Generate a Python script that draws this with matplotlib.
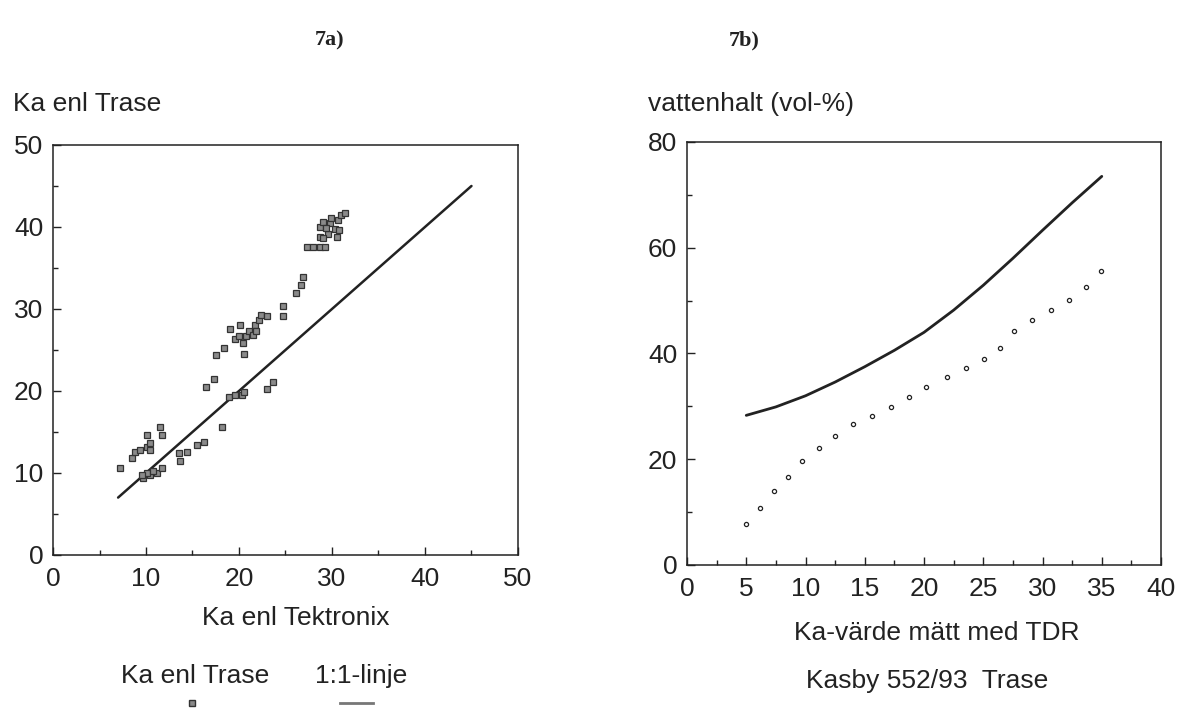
import matplotlib.pyplot as plt
import numpy as np
from matplotlib.ticker import MultipleLocator

plt.rcParams['font.family'] = ['Liberation Sans', 'DejaVu Sans']

# 7a) Ka enl Tektronix (x) vs Ka enl Trase (y)
ka_tektronix = [7.2, 8.5, 8.8, 9.4, 10.1, 10.4, 10.1, 10.4, 11.5, 11.7,
                9.7, 10.4, 11.2, 11.7, 10.1, 9.6, 10.8,
                13.5, 13.7, 14.4, 15.5, 16.2, 18.2,
                16.5, 17.3, 17.5, 18.4, 20.5, 19.0,
                18.9, 19.6, 20.3, 20.5, 23.0, 23.7,
                19.6, 20.1, 20.4, 20.8, 21.1, 21.5, 21.7, 22.1, 22.4, 23.0, 21.8, 20.0,
                24.7, 24.7, 26.1, 26.7, 26.9,
                27.3, 28.0, 28.7, 29.3,
                28.7, 28.7, 29.0, 29.6, 29.8, 30.3, 30.5, 30.6, 31.0, 31.4, 29.0, 29.9, 29.4, 30.8]
ka_trase = [10.6, 11.8, 12.6, 12.8, 13.2, 12.8, 14.6, 13.6, 15.6, 14.6,
            9.4, 9.8, 10.0, 10.6, 10.0, 9.7, 10.3,
            12.4, 11.4, 12.5, 13.4, 13.8, 15.6,
            20.5, 21.4, 24.4, 25.3, 24.5, 27.6,
            19.3, 19.5, 19.5, 19.9, 20.3, 21.1,
            26.4, 28.0, 25.9, 26.7, 27.3, 26.8, 28.0, 28.7, 29.3, 29.1, 27.3, 26.7,
            30.4, 29.1, 32.0, 32.9, 33.9,
            37.5, 37.5, 37.5, 37.5,
            38.8, 40.0, 40.6, 39.2, 40.5, 39.8, 38.8, 40.9, 41.5, 41.7, 38.6, 41.1, 39.9, 39.6]
line_11 = [7, 45]

# 7b) Ka-värde vs vattenhalt
ka_solid = [5, 7.5, 10, 12.5, 15, 17.5, 20, 22.5, 25, 27.5, 30, 32.5, 35]
vh_solid = [28.3, 29.9, 32.0, 34.6, 37.5, 40.6, 44.0, 48.2, 52.9, 58.0, 63.3, 68.5, 73.5]
ka_dots = [5.0, 6.2, 7.3, 8.5, 9.7, 11.1, 12.5, 14.0, 15.6, 17.2, 18.7,
           20.2, 21.9, 23.5, 25.1, 26.4, 27.6, 29.1, 30.7, 32.2, 33.7, 34.9]
vh_dots = [7.7, 10.7, 13.9, 16.6, 19.7, 22.2, 24.4, 26.6, 28.2, 29.9, 31.8,
           33.7, 35.5, 37.3, 38.9, 41.1, 44.2, 46.4, 48.2, 50.1, 52.6, 55.6]

ink = '#222222'
fs = 19
fig = plt.figure(figsize=(11.78, 7.16), dpi=100)
ax1 = fig.add_axes([0.045, 0.2249, 0.3947, 0.5726])
ax2 = fig.add_axes([0.5832, 0.2109, 0.4024, 0.5908])

def style(ax, xmaj, xmin, ymaj, ymin):
    ax.xaxis.set_major_locator(MultipleLocator(xmaj))
    ax.xaxis.set_minor_locator(MultipleLocator(xmin))
    ax.yaxis.set_major_locator(MultipleLocator(ymaj))
    ax.yaxis.set_minor_locator(MultipleLocator(ymin))
    ax.tick_params(which='both', direction='in', color=ink, width=1.0,
                   labelsize=fs, labelcolor=ink)
    ax.tick_params(which='major', length=6)
    ax.tick_params(which='minor', length=3.5)
    ax.tick_params(axis='y', pad=7)
    ax.tick_params(axis='x', pad=9)
    for s in ax.spines.values():
        s.set_color(ink)
        s.set_linewidth(1.1)

ax1.plot(line_11, line_11, color=ink, linewidth=1.8, solid_capstyle='round')
ax1.plot(ka_tektronix, ka_trase, linestyle='none', marker='s', markersize=4.6,
         markerfacecolor='#8a8a8a', markeredgecolor='#333333', markeredgewidth=0.9)
ax1.set_xlim(0, 50)
ax1.set_ylim(0, 50)
style(ax1, 10, 5, 10, 5)

ax2.plot(ka_solid, vh_solid, color=ink, linewidth=2.0, solid_capstyle='round')
ax2.plot(ka_dots, vh_dots, linestyle='none', marker='o', markersize=3,
         markerfacecolor='white', markeredgecolor=ink, markeredgewidth=0.9)
ax2.set_xlim(0, 40)
ax2.set_ylim(0, 80)
style(ax2, 5, 2.5, 20, 10)

fig.text(0.280, 0.944, '7a)', family='Liberation Serif', weight='bold', fontsize=16,
         ha='center', va='center', color=ink)
fig.text(0.632, 0.944, '7b)', family='Liberation Serif', weight='bold', fontsize=16,
         ha='center', va='center', color=ink)
fig.text(0.011, 0.855, 'Ka enl Trase', fontsize=fs, ha='left', va='center', color=ink)
fig.text(0.550, 0.855, 'vattenhalt (vol-%)', fontsize=fs, ha='left', va='center', color=ink)
fig.text(0.2513, 0.137, 'Ka enl Tektronix', fontsize=fs, ha='center', va='center', color=ink)
fig.text(0.7954, 0.116, 'Ka-värde mätt med TDR', fontsize=fs, ha='center', va='center', color=ink)
fig.text(0.787, 0.049, 'Kasby 552/93  Trase', fontsize=fs, ha='center', va='center', color=ink)

# legend below 7a
fig.text(0.1655, 0.056, 'Ka enl Trase', fontsize=fs, ha='center', va='center', color=ink)
fig.text(0.2674, 0.056, '1:1-linje', fontsize=fs, ha='left', va='center', color=ink)
fig.lines.append(plt.Line2D([0.163], [0.018], transform=fig.transFigure, linestyle='none',
                            marker='s', markersize=4, markerfacecolor='#8a8a8a',
                            markeredgecolor='#333333'))
fig.lines.append(plt.Line2D([0.2886, 0.3166], [0.018, 0.018], transform=fig.transFigure,
                            color='#777777', linewidth=2))

plt.savefig('out.png', dpi=100)
